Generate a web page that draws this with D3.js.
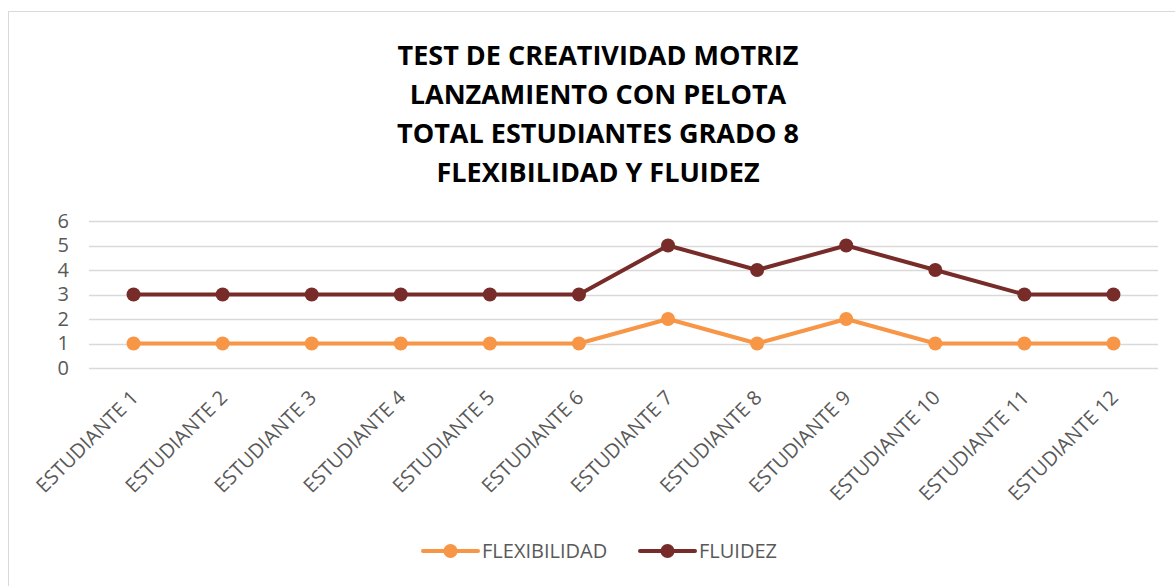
<!DOCTYPE html>
<html>
<head>
<meta charset="utf-8">
<script src="https://cdn.jsdelivr.net/npm/d3@7"></script>
<style>
  body { margin: 0; background: #fff; }
  text { font-family: "Open Sans", "Liberation Sans", sans-serif; }
</style>
</head>
<body>
<div id="chart"></div>
<script>
// data
var categories = ["ESTUDIANTE 1", "ESTUDIANTE 2", "ESTUDIANTE 3", "ESTUDIANTE 4", "ESTUDIANTE 5", "ESTUDIANTE 6",
                  "ESTUDIANTE 7", "ESTUDIANTE 8", "ESTUDIANTE 9", "ESTUDIANTE 10", "ESTUDIANTE 11", "ESTUDIANTE 12"];
var flexibilidad = [1, 1, 1, 1, 1, 1, 2, 1, 2, 1, 1, 1];
var fluidez = [3, 3, 3, 3, 3, 3, 5, 4, 5, 4, 3, 3];
var yTicks = [0, 1, 2, 3, 4, 5, 6];
var titleLines = ["TEST DE CREATIVIDAD MOTRIZ", "LANZAMIENTO CON PELOTA", "TOTAL ESTUDIANTES GRADO 8", "FLEXIBILIDAD Y FLUIDEZ"];

var series = [
  {name: "FLEXIBILIDAD", values: flexibilidad, color: "#F79646"},
  {name: "FLUIDEZ", values: fluidez, color: "#772C2A"}
];

var W = 1175, H = 586;
var plot = {left: 89, right: 1158, top: 221, bottom: 368};

var svg = d3.select("#chart")
  .append("svg")
    .attr("width", W)
    .attr("height", H);

// chart border
svg.append("rect")
  .attr("x", 8.5).attr("y", 11.5)
  .attr("width", W + 10).attr("height", H)
  .attr("fill", "#fff")
  .attr("stroke", "#d9d9d9");

// title
svg.append("g").selectAll("text")
  .data(titleLines)
  .enter()
  .append("text")
    .attr("x", 598)
    .attr("y", function(d, i) { return 65 + i * 39; })
    .attr("text-anchor", "middle")
    .style("font-size", "27px")
    .style("font-weight", "bold")
    .attr("fill", "#000")
    .text(function(d) { return d; });

var x = d3.scaleBand()
  .domain(categories)
  .range([plot.left, plot.right]);

var y = d3.scaleLinear()
  .domain([0, 6])
  .range([plot.bottom, plot.top]);

// gridlines
svg.append("g").selectAll("line")
  .data(yTicks)
  .enter()
  .append("line")
    .attr("x1", plot.left).attr("x2", plot.right)
    .attr("y1", function(d) { return Math.round(y(d)) + 0.5; })
    .attr("y2", function(d) { return Math.round(y(d)) + 0.5; })
    .attr("stroke", "#d9d9d9")
    .attr("stroke-width", 1.5);

// y axis
var yAxis = svg.append("g")
  .attr("transform", "translate(" + plot.left + ",0)")
  .call(d3.axisLeft(y).tickValues(yTicks).tickFormat(d3.format("d")).tickSize(0).tickPadding(20));
yAxis.select(".domain").remove();
yAxis.selectAll("text")
  .style("font-size", "20px")
  .style("font-family", "'Open Sans', sans-serif")
  .attr("fill", "#595959");

// x axis labels
var xAxis = svg.append("g")
  .attr("transform", "translate(0," + plot.bottom + ")")
  .call(d3.axisBottom(x).tickSize(0));
xAxis.select(".domain").remove();
xAxis.selectAll("text")
  .style("font-size", "20px")
  .style("font-family", "'Open Sans', sans-serif")
  .attr("fill", "#595959")
  .attr("text-anchor", "end")
  .attr("dy", "0")
  .attr("y", 0)
  .attr("transform", "translate(6,31) rotate(-45)");

// lines + markers
var line = d3.line()
  .x(function(d, i) { return x(categories[i]) + x.bandwidth() / 2; })
  .y(function(d) { return y(d); });

series.forEach(function(s) {
  svg.append("path")
    .datum(s.values)
    .attr("fill", "none")
    .attr("stroke", s.color)
    .attr("stroke-width", 4)
    .attr("stroke-linejoin", "round")
    .attr("d", line);
  svg.append("g").selectAll("circle")
    .data(s.values)
    .enter()
    .append("circle")
      .attr("cx", function(d, i) { return x(categories[i]) + x.bandwidth() / 2; })
      .attr("cy", function(d) { return y(d); })
      .attr("r", 7)
      .attr("fill", s.color);
});

// legend
var legendX = [423, 640];
var legend = svg.append("g").selectAll("g")
  .data(series)
  .enter()
  .append("g")
    .attr("transform", function(d, i) { return "translate(" + legendX[i] + ",551)"; });
legend.append("line")
  .attr("x1", 0).attr("x2", 55)
  .attr("stroke", function(d) { return d.color; })
  .attr("stroke-width", 4)
  .attr("stroke-linecap", "round");
legend.append("circle")
  .attr("cx", 27.5)
  .attr("r", 7)
  .attr("fill", function(d) { return d.color; });
legend.append("text")
  .attr("x", 59)
  .attr("dy", "0.35em")
  .style("font-size", "20px")
  .attr("fill", "#595959")
  .text(function(d) { return d.name; });
</script>
</body>
</html>
